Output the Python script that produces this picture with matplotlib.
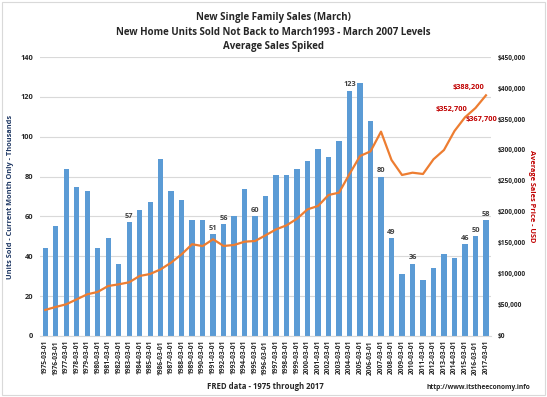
import matplotlib.pyplot as plt
import matplotlib.patches as patches
import numpy as np

plt.rcParams['font.family'] = ['Open Sans', 'DejaVu Sans']

years = list(range(1975, 2018))
dates = ['{}-03-01'.format(y) for y in years]

units = [44, 55, 84, 75, 73, 44, 49, 36, 57, 63, 67, 89, 73, 68, 58,
         58, 51, 56, 60, 74, 60, 70, 81, 81, 84, 88, 94, 90, 98, 123,
         127, 108, 80, 49, 31, 36, 28, 34, 41, 39, 46, 50, 58]

price = [42000, 46800, 51100, 59100, 67200, 71000, 80600, 83300, 86600, 96800,
         100000, 107500, 118300, 131700, 148000, 145000, 156000, 145200, 146800, 152100,
         153200, 162400, 172000, 178500, 189200, 204300, 209700, 227400, 231200, 261300,
         290300, 297800, 329600, 283900, 259700, 263400, 261300, 285000, 300000, 330600,
         352700, 367700, 388200]

labeled_years = [1983, 1991, 1992, 1995, 2004, 2007, 2008, 2010, 2015, 2016, 2017]

fig = plt.figure(figsize=(5.47, 3.97), dpi=100)
fig.patches.append(patches.Rectangle((0.003, 0.004), 0.994, 0.992, transform=fig.transFigure,
                                     fill=False, edgecolor='#d9d9d9', linewidth=0.8))

ax1 = fig.add_axes([0.073, 0.1537, 0.825, 0.7027])
x = np.arange(len(years))
ax1.bar(x, units, width=0.5, color='#5B9BD5', zorder=2)
ax1.set_ylim(0, 140)
ax1.set_yticks(range(0, 141, 20))
ax1.set_xlim(-0.5, len(years) - 0.5)
ax1.grid(axis='y', color='#d9d9d9', linewidth=0.8, zorder=0)
ax1.set_axisbelow(True)
for s in ['top', 'right', 'left']:
    ax1.spines[s].set_visible(False)
ax1.spines['bottom'].set_color('#d9d9d9')
ax1.tick_params(axis='both', length=0, colors='#262626')
ax1.set_xticks(x)
ax1.set_xticklabels(dates, rotation=90, fontsize=4.8, fontweight='bold')
for lab in ax1.get_yticklabels():
    lab.set_fontsize(5.3)
    lab.set_fontweight('bold')
ax1.tick_params(axis='y', pad=5)
ax1.tick_params(axis='x', pad=3)

for yr in labeled_years:
    i = years.index(yr)
    ax1.annotate(str(units[i]), (i, units[i]), xytext=(0, 2), textcoords='offset points',
                 ha='center', va='bottom', fontsize=5.3, fontweight='bold', color='#404040')

ax1.set_ylabel('Units Sold - Current Month Only - Thousands', fontsize=5.3, fontweight='bold',
               color='#1F3864')
ax1.yaxis.set_label_coords(-0.058, 0.5)
ax1.set_xlabel('FRED data - 1975 through 2017', fontsize=5.6, fontweight='bold', color='#262626')
ax1.xaxis.set_label_coords(0.5, -0.165)

ax2 = ax1.twinx()
ax2.plot(x, price, color='#ED7D31', linewidth=1.6, zorder=3)
ax2.set_ylim(0, 450000)
ax2.set_yticks(range(0, 450001, 50000))
ax2.set_yticklabels(['${:,}'.format(v) for v in range(0, 450001, 50000)], fontsize=4.8,
                    fontweight='bold')
for s in ['top', 'right', 'left', 'bottom']:
    ax2.spines[s].set_visible(False)
ax2.tick_params(axis='y', length=0, colors='#262626', pad=5)
ax2.set_ylabel('Average Sales Price - USD', fontsize=5.3, fontweight='bold', color='#C00000',
               rotation=270, va='center')
ax2.yaxis.set_label_coords(1.09, 0.5)

red = '#C00000'
ax2.annotate('$388,200', (42, price[42]), xytext=(-1, 3), textcoords='offset points',
             ha='right', va='bottom', fontsize=5.3, fontweight='bold', color=red)
ax2.annotate('$352,700', (40, price[40]), xytext=(2, 3), textcoords='offset points',
             ha='right', va='bottom', fontsize=5.3, fontweight='bold', color=red)
ax2.annotate('$367,700', (41, price[41]), xytext=(-7, -6), textcoords='offset points',
             ha='left', va='top', fontsize=5.3, fontweight='bold', color=red)

fig.text(0.5, 0.97, 'New Single Family Sales (March)\nNew Home Units Sold Not Back to March1993 - March 2007 Levels\nAverage Sales Spiked',
         ha='center', va='top', fontsize=7, fontweight='bold', color='#262626', linespacing=1.45)
fig.text(0.97, 0.015, 'http://www.itstheeconomy.info', ha='right', va='bottom', fontsize=4.8,
         fontweight='bold', color='#262626')

fig.savefig('out.png', dpi=100)
